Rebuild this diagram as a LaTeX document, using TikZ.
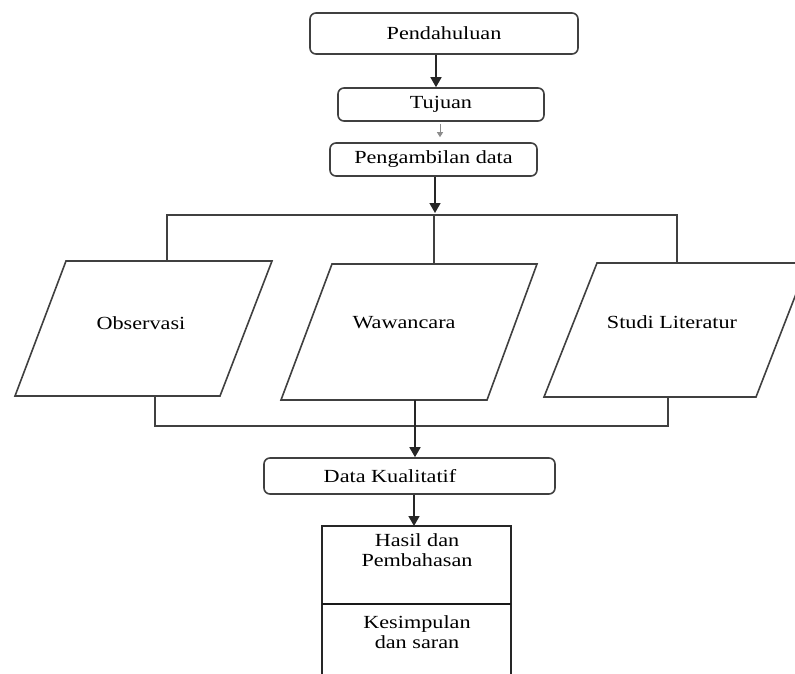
\documentclass[tikz,border=0pt]{standalone}
\usepackage{fontspec}
\setmainfont{Liberation Serif}
\usetikzlibrary{arrows.meta}
\newcommand\sx[1]{\scalebox{1.2}[1]{#1}}
\begin{document}
\begin{tikzpicture}[x=1pt,y=-1pt,
 ln/.style={draw=black!75, line width=1.6pt},
 arr/.style={draw=black!85, line width=1.6pt, -{Triangle[length=10pt,width=11pt]}},
 rbox/.style={ln, rounded corners=6pt, inner sep=0pt, font=\fontsize{18.5}{20}\selectfont},
 txt/.style={inner sep=0pt, font=\fontsize{18.5}{20}\selectfont, align=center}]
\useasboundingbox (0,0) rectangle (795,673);
\begin{scope}
\clip (0,0) rectangle (795,673);
% top boxes
\node[rbox, minimum width=268pt, minimum height=41pt] (pend) at (444,33.5) {\sx{Pendahuluan}};
\node[rbox, minimum width=206pt, minimum height=33pt] (tuj) at (441,104.5) {\sx{Tujuan}};
\node[rbox, minimum width=207pt, minimum height=33pt] (peng) at (433.5,159.5) {\sx{Pengambilan data}};
\draw[arr] ([xshift=-8pt]pend.south) -- ([xshift=-8pt]pend.south |- tuj.north);
\draw[draw=black!45, line width=1pt, -{Triangle[length=5pt,width=6pt]}]
  ([xshift=-1pt,yshift=-2pt]tuj.south) -- ([xshift=-1pt,yshift=5pt]tuj.south |- peng.north);
% distribution bar
\coordinate (bar) at (435,213);
\coordinate (bl) at (167,215);
\coordinate (bm) at (434,215);
\coordinate (br) at (677,215);
\draw[arr] ([xshift=1.5pt]peng.south) -- (bar);
\draw[ln] (bl |- 0,261) -- (bl) -- (br) -- (br |- 0,263);
\draw[ln] (bm) -- (bm |- 0,264);
% parallelograms
\draw[ln] (66,261) -- (272,261) -- (220,396) -- (15,396) -- cycle;
\draw[ln] (332,264) -- (537,264) -- (487,400) -- (281,400) -- cycle;
\draw[ln] (597,263) -- (808,263) -- (756,397) -- (544,397) -- cycle;
\node[txt] (obs) at (141,323) {\sx{Observasi}};
\node[txt] (waw) at (404,323) {\sx{Wawancara}};
\node[txt] (stu) at (672,322) {\sx{Studi Literatur}};
% collecting bar
\coordinate (cl) at (155,426);
\coordinate (cr) at (668,426);
\draw[ln] (cl |- 0,396) -- (cl) -- (cr) -- (cr |- 0,397);
% data box
\node[rbox, minimum width=291pt, minimum height=36pt] (data) at (409.5,476) {\sx{Data Kualitatif}\hspace*{39pt}};
\draw[arr] (415,400) -- ([xshift=5.5pt]data.north);
% result boxes
\draw[draw=black!85, line width=2pt] (322,690) -- (322,526) -- (511,526) -- (511,690);
\draw[draw=black!90, line width=2.2pt] (322,604) -- (511,604);
\node[txt] (hasil) at (417,550) {\sx{Hasil dan}\\\sx{Pembahasan}};
\node[txt] (kes) at (417,632) {\sx{Kesimpulan}\\\sx{dan saran}};
\draw[arr] ([xshift=4.5pt]data.south) -- (414,526);
\end{scope}
\end{tikzpicture}
\end{document}
